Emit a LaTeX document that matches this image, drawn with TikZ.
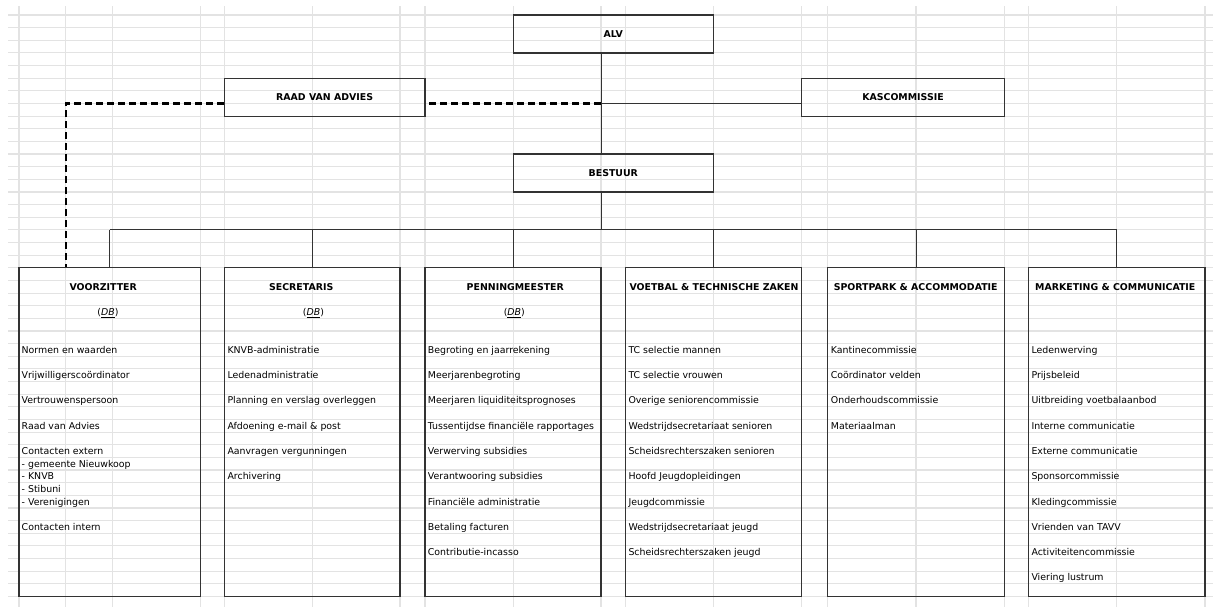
\documentclass[tikz,border=0pt]{standalone}
\usepackage{fontspec}
\setmainfont{DejaVu Sans}
\usepackage{tikz}
\definecolor{rastergrijs}{rgb}{0.89,0.89,0.89}
\definecolor{lijngrijs}{rgb}{0.2,0.2,0.2}

\begin{document}
\begin{tikzpicture}[x=1pt,y=-12.64pt,
		every node/.style={font=\fontsize{9.4}{11}\selectfont},
		raster/.style={draw=rastergrijs, line width=1.1pt},
		vak/.style={draw=lijngrijs, line width=1.2pt, inner sep=0pt, minimum height=37.92pt, font=\fontsize{9.4}{11}\selectfont\bfseries},
		tak/.style={draw=lijngrijs, line width=1.2pt, inner sep=0pt, minimum height=328.64pt},
		kop/.style={anchor=base, inner sep=0pt, yshift=-3.4pt, font=\fontsize{9.4}{11}\selectfont\bfseries},
		punt/.style={anchor=base west, inner sep=0pt, yshift=-3.4pt},
		verbinding/.style={draw=lijngrijs, line width=1pt},
		stippel/.style={draw=black, line width=2.2pt, dash pattern=on 7pt off 4pt}]
		\useasboundingbox (0,-1.1867) rectangle (1213,46.835);
		% spreadsheet raster
		\foreach \r in {0,...,46}
			\draw[raster] (8,\r) -- (1213,\r);
		\foreach \x in {19,65.7,112.3,200.3,224.3,312.3,400,425,513.3,601,625.7,713.3,801.7,827.7,916,1004.3,1028.3,1116.7,1205}
			\draw[raster] (\x,-0.71) -- (\x,46.835);

		% bovenste laag
		\node[vak, minimum width=200pt] (alv) at (613.3,1.5) {ALV};
		\node[vak, minimum width=200.7pt] (raad) at (324.65,6.5) {RAAD VAN ADVIES};
		\node[vak, minimum width=202.6pt] (kas) at (903,6.5) {KASCOMMISSIE};
		\node[vak, minimum width=200pt] (bestuur) at (613.3,12.5) {BESTUUR};

		% portefeuilles
		\node[tak, minimum width=181.3pt] (voorzitter) at (109.65,33) {};
		\node[tak, minimum width=175.7pt] (secretaris) at (312.15,33) {};
		\node[tak, minimum width=176pt] (penningmeester) at (513,33) {};
		\node[tak, minimum width=176pt] (voetbal) at (713.7,33) {};
		\node[tak, minimum width=176.6pt] (sportpark) at (916,33) {};
		\node[tak, minimum width=176.7pt] (marketing) at (1116.65,33) {};

		\coordinate (kruis) at (601,7);
		\coordinate (hoek) at (65.7,7);
		\coordinate (bus) at (601,17);

		\draw[verbinding] (alv.south -| kruis) -- (bestuur.north -| kruis);
		\draw[verbinding] (kruis) -- (kruis -| kas.west);
		\draw[stippel] (kruis) -- (kruis -| raad.east);
		\draw[stippel] (raad.west |- hoek) -- (hoek) -- (hoek |- voorzitter.north);
		\draw[verbinding] (bestuur.south -| bus) -- (bus);
		\draw[verbinding] (bus -| voorzitter.north) -- (bus -| marketing.north);
		\foreach \t in {voorzitter,secretaris,penningmeester,voetbal,sportpark,marketing}
			\draw[verbinding] (bus -| \t.north) -- (\t.north);

		% koppen
		\node[kop] (kop-vz) at (103.2,21.5) {VOORZITTER};
		\node[kop] (kop-se) at (301.2,21.5) {SECRETARIS};
		\node[kop] (kop-pm) at (515.3,21.5) {PENNINGMEESTER};
		\node[kop] (kop-vt) at (714,21.5) {VOETBAL \& TECHNISCHE ZAKEN};
		\node[kop] (kop-sp) at (915.7,21.5) {SPORTPARK \& ACCOMMODATIE};
		\node[kop] (kop-mc) at (1115.3,21.5) {MARKETING \& COMMUNICATIE};
		\foreach \x/\n in {108/vz,313.5/se,514.3/pm}
			\node[punt, anchor=base] (db-\n) at (\x,23.5) {(\textit{\underline{DB}})};

		% taken
		\foreach \r/\t [count=\i] in {26.5/Normen en waarden, 28.5/Vrijwilligerscoördinator, 30.5/Vertrouwenspersoon, 32.5/Raad van Advies, 34.5/Contacten extern, 35.5/- gemeente Nieuwkoop, 36.5/- KNVB, 37.5/- Stibuni, 38.5/- Verenigingen, 40.5/Contacten intern}
			\node[punt] (vz\i) at (21.5,\r) {\t};
		\foreach \r/\t [count=\i] in {26.5/KNVB-administratie, 28.5/Ledenadministratie, 30.5/Planning en verslag overleggen, 32.5/Afdoening e-mail \& post, 34.5/Aanvragen vergunningen, 36.5/Archivering}
			\node[punt] (se\i) at (227.3,\r) {\t};
		\foreach \r/\t [count=\i] in {26.5/Begroting en jaarrekening, 28.5/Meerjarenbegroting, 30.5/Meerjaren liquiditeitsprognoses, 32.5/Tussentijdse financiële rapportages, 34.5/Verwerving subsidies, 36.5/Verantwooring subsidies, 38.5/Financiële administratie, 40.5/Betaling facturen, 42.5/Contributie-incasso}
			\node[punt] (pm\i) at (427.7,\r) {\t};
		\foreach \r/\t [count=\i] in {26.5/TC selectie mannen, 28.5/TC selectie vrouwen, 30.5/Overige seniorencommissie, 32.5/Wedstrijdsecretariaat senioren, 34.5/Scheidsrechterszaken senioren, 36.5/Hoofd Jeugdopleidingen, 38.5/Jeugdcommissie, 40.5/Wedstrijdsecretariaat jeugd, 42.5/Scheidsrechterszaken jeugd}
			\node[punt] (vt\i) at (628.3,\r) {\t};
		\foreach \r/\t [count=\i] in {26.5/Kantinecommissie, 28.5/Coördinator velden, 30.5/Onderhoudscommissie, 32.5/Materiaalman}
			\node[punt] (sp\i) at (830.7,\r) {\t};
		\foreach \r/\t [count=\i] in {26.5/Ledenwerving, 28.5/Prijsbeleid, 30.5/Uitbreiding voetbalaanbod, 32.5/Interne communicatie, 34.5/Externe communicatie, 36.5/Sponsorcommissie, 38.5/Kledingcommissie, 40.5/Vrienden van TAVV, 42.5/Activiteitencommissie, 44.5/Viering lustrum}
			\node[punt] (mc\i) at (1031.3,\r) {\t};
\end{tikzpicture}
\end{document}
